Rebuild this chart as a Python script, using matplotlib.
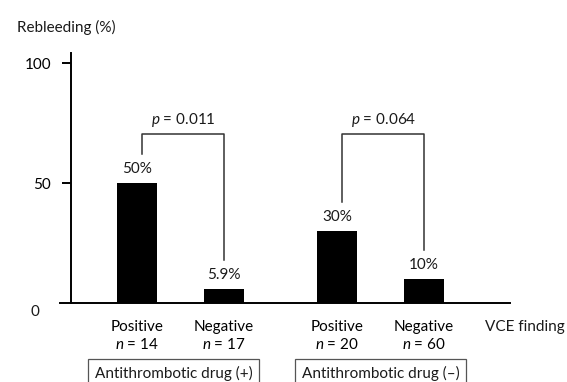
import numpy as np
import matplotlib.pyplot as plt

plt.rcParams["font.family"] = ["Lato", "DejaVu Sans"]
plt.rcParams["mathtext.fontset"] = "custom"
plt.rcParams["mathtext.rm"] = "Lato"
plt.rcParams["mathtext.it"] = "Lato:italic"
plt.rcParams["text.color"] = "#1a1a1a"

# data
findings = ["Positive", "Negative", "Positive", "Negative"]
n_counts = [14, 17, 20, 60]
rebleeding = [50, 5.9, 30, 10]
value_labels = ["50%", "5.9%", "30%", "10%"]
groups = ["Antithrombotic drug (+)", "Antithrombotic drug (–)"]
p_values = ["0.011", "0.064"]

positions = np.array([0.0, 1.0, 2.3, 3.3])
group_centers = [0.42, 2.8]

fs = 11

fig = plt.figure(figsize=(5.67, 3.82), dpi=100)
ax = fig.add_axes([0.1058, 0.2068, 0.7937, 0.6545])

ax.bar(positions, rebleeding, width=0.46, color="black")

for x, v, lab in zip(positions, rebleeding, value_labels):
    ax.annotate(lab, (x, v), xytext=(0, 5), textcoords="offset points",
                ha="center", va="bottom", fontsize=fs)

# significance brackets
bracket_top = 70.5
for i, p in enumerate(p_values):
    xl = positions[2 * i] + 0.06
    xr = positions[2 * i + 1]
    yl = rebleeding[2 * i] + 12
    yr = rebleeding[2 * i + 1] + 12
    ax.plot([xl, xl, xr, xr], [yl, bracket_top, bracket_top, yr],
            color="#333333", lw=1.1)
    ax.text((xl + xr) / 2, bracket_top + 2, f"$p$ = {p}",
            ha="center", va="bottom", fontsize=fs)

ax.set_xlim(-0.885, 4.287)
ax.set_ylim(0, 104.2)

ax.spines["top"].set_visible(False)
ax.spines["right"].set_visible(False)
ax.spines["left"].set_position(("data", -0.753))
ax.spines["left"].set_linewidth(1.4)
ax.spines["bottom"].set_linewidth(1.4)

ax.set_yticks([50, 100])
ax.tick_params(axis="y", length=6.5, width=1.4, labelsize=fs, pad=8)
ax.text(-1.12, -1.0, "0", ha="right", va="top", fontsize=fs)

ax.set_xticks(positions,
              labels=[f"{f}\n$n$ = {n}" for f, n in zip(findings, n_counts)])
ax.tick_params(axis="x", length=0, pad=12, labelsize=fs)
for t in ax.get_xticklabels():
    t.set_linespacing(1.3)

ax.text(4.0, -0.096, "VCE finding", transform=ax.get_xaxis_transform(),
        ha="left", va="center", fontsize=fs)

for gx, g in zip(group_centers, groups):
    ax.text(gx, -0.282, g, transform=ax.get_xaxis_transform(),
            ha="center", va="center", fontsize=fs,
            bbox=dict(boxstyle="square,pad=0.45", fc="white",
                      ec="#555555", lw=0.9))

fig.text(0.03, 0.927, "Rebleeding (%)", ha="left", va="center", fontsize=fs)

fig.savefig("out.png", dpi=100)
